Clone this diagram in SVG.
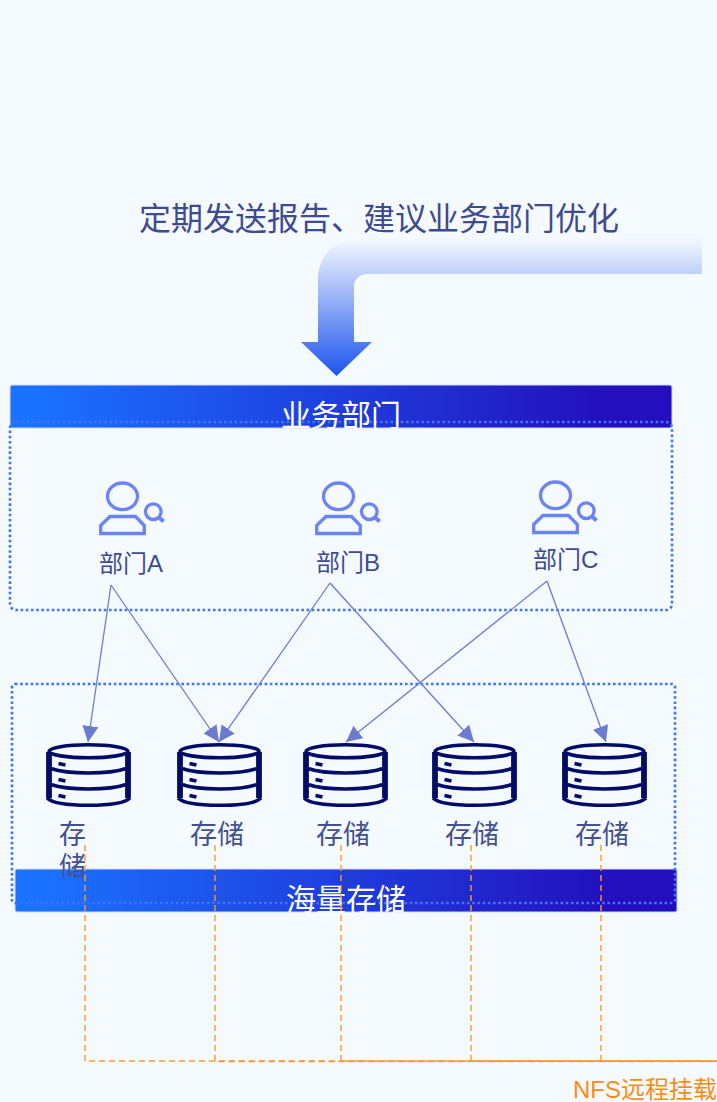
<svg xmlns="http://www.w3.org/2000/svg" xmlns:xlink="http://www.w3.org/1999/xlink" width="717" height="1102" viewBox="0 0 717 1102">
<style>
text{font-family:"Liberation Sans","Noto Sans CJK SC",sans-serif}
.lbl{font-size:24px;fill:#3f4b8f}
.sto{font-size:27px;fill:#45518f}
.hd{font-size:30px;fill:#fff;text-anchor:middle}
.dot{fill:none;stroke:#3f74f5;stroke-width:2.600;stroke-dasharray:2.600 2.600}
.bar{fill:url(#barG);stroke:#cfdcfb;stroke-width:1}
.conn{fill:none;stroke:#6b7bcf;stroke-width:1.300;marker-end:url(#ah)}
.nfs{fill:none;stroke:#fb9a2c;stroke-width:1.400;stroke-dasharray:6 4}
.ic{fill:none;stroke:#6b83f5;stroke-width:3.300}
.ich{fill:none;stroke:#6b83f5;stroke-width:4}
.db{fill:none;stroke:#020b66;stroke-width:3.600}
.dbs{fill:none;stroke:#020b66;stroke-width:5.800}
.dbm{fill:none;stroke:#020b66;stroke-width:3.800}
</style>
<defs>
<linearGradient id="barG" x1="0" y1="0" x2="1" y2="0"><stop offset="0.03" stop-color="#1a73ff"/><stop offset="0.9" stop-color="#230fbe"/></linearGradient>
<linearGradient id="arrG" gradientUnits="userSpaceOnUse" x1="0" y1="239" x2="0" y2="376"><stop offset="0" stop-color="#f3f8ff"/><stop offset="0.27" stop-color="#bccdf9"/><stop offset="1" stop-color="#1c55ee"/></linearGradient>
<marker id="ah" markerUnits="userSpaceOnUse" viewBox="0 0 16 16" markerWidth="16" markerHeight="16" refX="16" refY="8" orient="auto"><path d="M0 0L16 8L0 16z" fill="#6b7bcf"/></marker>
<g id="person">
<ellipse cx="23.500" cy="14.300" rx="15" ry="13.300" class="ic"/>
<path d="M1.700 51.500V43.500L11 34.500H36.500L45.300 43.500V51.500Z" class="ic"/>
<circle cx="54.300" cy="29.700" r="7.800" class="ic"/>
<path d="M59.800 35.200L64.600 39.500" class="ich"/>
</g>
<g id="cyl">
<path d="M3 9V55M82 9V55" class="dbs"/>
<ellipse cx="42.500" cy="8.300" rx="39.500" ry="6.500" class="db"/>
<path d="M1 55C6 60 22 62.300 42.500 62.300S79 60 84 55" class="db"/>
<path d="M5 25.500C15 29 28 30 42.500 30S70 29 80 25.500M5 41.500C15 45 28 46 42.500 46S70 45 80 41.500" class="db"/>
<path d="M12.500 20.500L19.500 22M12.500 36.500L19.500 38M12.500 52.500L19.500 54" class="dbm"/>
</g>
</defs>
<rect width="717" height="1102" fill="#f5faff"/>

<g id="title"><text x="139" y="230" font-size="32" fill="#3f4b8f">定期发送报告、建议业务部门优化</text></g>
<g id="big-arrow"><path d="M702 239H358C335 239 318 256 318 279V342H301L336.500 376L372 342H354V286C354 279 360 274 367 274H702Z" fill="url(#arrG)"/></g>

<g id="dept-panel">
<rect class="bar" x="10" y="385" width="662" height="43" rx="2"/>
<rect class="dot" x="10" y="422" width="662" height="188" rx="6"/>
<text class="hd" x="341" y="426">业务部门</text>
</g>
<g id="dept-a"><use href="#person" x="99" y="482"/><text class="lbl" x="99" y="572">部门A</text></g>
<g id="dept-b"><use href="#person" x="315" y="482"/><text class="lbl" x="316" y="571">部门B</text></g>
<g id="dept-c"><use href="#person" x="532" y="481"/><text class="lbl" x="533" y="568">部门C</text></g>

<g id="storage-panel">
<rect class="bar" x="15" y="869" width="662" height="43" rx="2"/>
<rect class="dot" x="12" y="684" width="663" height="219" rx="3"/>
<text class="hd" x="346" y="910">海量存储</text>
</g>
<g id="store-1"><use href="#cyl" x="46" y="743"/><text class="sto" x="59" y="844">存</text><text class="sto" x="59" y="876">储</text></g>
<g id="store-2"><use href="#cyl" x="177" y="743"/><text class="sto" x="190" y="844">存储</text></g>
<g id="store-3"><use href="#cyl" x="303" y="743"/><text class="sto" x="316" y="844">存储</text></g>
<g id="store-4"><use href="#cyl" x="432" y="743"/><text class="sto" x="445" y="844">存储</text></g>
<g id="store-5"><use href="#cyl" x="562" y="743"/><text class="sto" x="575" y="844">存储</text></g>

<g id="connectors">
<path class="conn" d="M111 585L88 742"/>
<path class="conn" d="M111 585L219 742"/>
<path class="conn" d="M330 583L219 742"/>
<path class="conn" d="M330 583L474 742"/>
<path class="conn" d="M547 581L346 742"/>
<path class="conn" d="M547 581L606 742"/>
<path class="nfs" d="M85 845V1061H717"/>
<path class="nfs" d="M215 845V1061.500H717"/>
<path class="nfs" d="M341 845V1061H717"/>
<path class="nfs" d="M471 845V1061H717"/>
<path class="nfs" d="M601 845V1061H717"/>
</g>
<g id="nfs-label"><text x="573" y="1098" font-size="24" fill="#fb8c12">NFS远程挂载</text></g>
</svg>
